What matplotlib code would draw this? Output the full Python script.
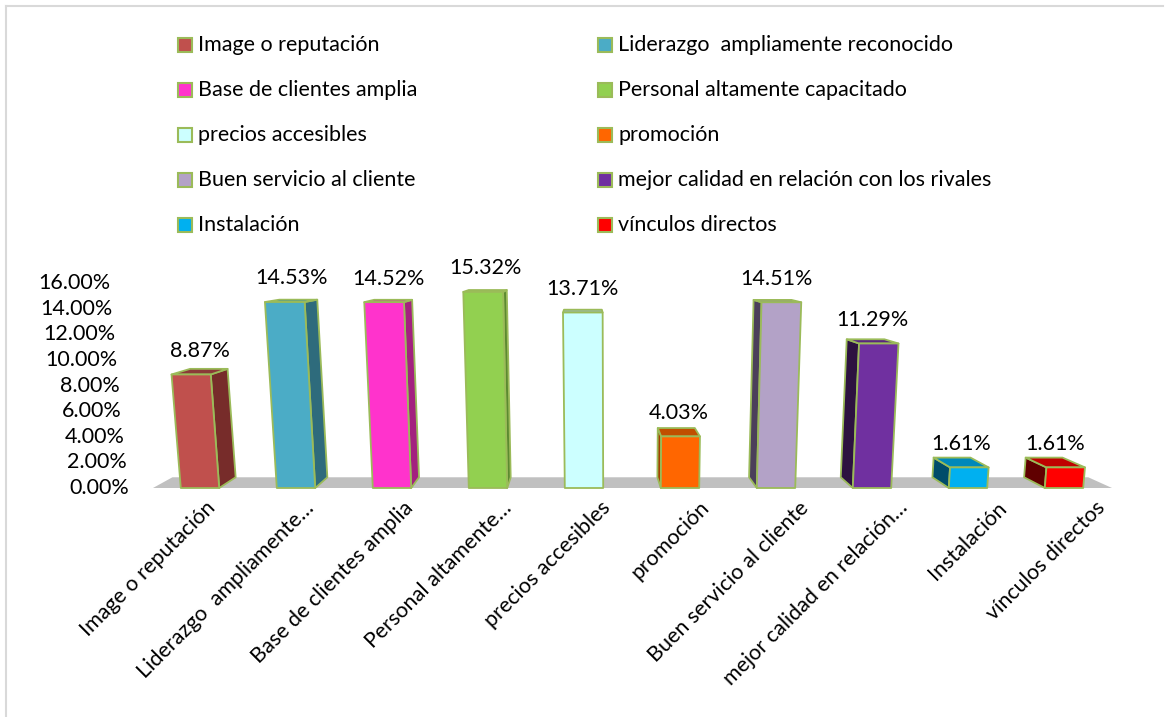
import matplotlib.pyplot as plt
from matplotlib.patches import Polygon, Rectangle
from matplotlib.lines import Line2D

plt.rcParams['font.family'] = ['Lato', 'DejaVu Sans']

categories = ['Image o reputación', 'Liderazgo  ampliamente reconocido', 'Base de clientes amplia',
              'Personal altamente capacitado', 'precios accesibles', 'promoción',
              'Buen servicio al cliente', 'mejor calidad en relación con los rivales',
              'Instalación', 'vínculos directos']
tick_names = ['Image o reputación', 'Liderazgo  ampliamente…', 'Base de clientes amplia',
              'Personal altamente…', 'precios accesibles', 'promoción',
              'Buen servicio al cliente', 'mejor calidad en relación…',
              'Instalación', 'vínculos directos']
values = [8.87, 14.53, 14.52, 15.32, 13.71, 4.03, 14.51, 11.29, 1.61, 1.61]
yticks = [0, 2, 4, 6, 8, 10, 12, 14, 16]

front_colors = ['#C0504D', '#4BACC6', '#FF33CC', '#92D050', '#CCFFFF',
                '#FF6600', '#B3A2C7', '#7030A0', '#00B0F0', '#FF0000']
side_colors = ['#772C2A', '#2E6B7C', '#A3217F', '#5B8A30', '#8FB0B0',
               '#A34000', '#4B3F5A', '#2D1240', '#004C6A', '#600000']
top_colors = ['#8B3A38', '#3B8A9F', '#C62A9C', '#79B040', '#9DB8C4',
              '#C04F00', '#8C7DA0', '#5A2680', '#0088BA', '#C00000']
edge = '#9BBB59'
fs = 15.5

W, H = 1169, 717
fig = plt.figure(figsize=(W / 100, H / 100), dpi=100)

# axes placed so one category = 96 px and 1 % = 12.8 px, floor at y=488 px
x0_px, step_px, floor_px, unit_px = 200, 96, 488, 12.8
ax_l, ax_r, ax_t, ax_b = 60, 1160, 250, 700
ax = fig.add_axes([ax_l / W, (H - ax_b) / H, (ax_r - ax_l) / W, (ax_b - ax_t) / H])
ax.set_xlim((ax_l - x0_px) / step_px, (ax_r - x0_px) / step_px)
ax.set_ylim((floor_px - ax_b) / unit_px, (floor_px - ax_t) / unit_px)
ax.axis('off')

# simple perspective: verticals spread upward, depth shrinks toward a vanishing point
VX, DV = 4.375, 420.0
VDX, VDY, S = 4.01, 18.6, 0.955
half = 0.2


def proj(x, v, back=False):
    xp = VX + (x - VX) * (1 + v / DV)
    yp = v
    if back:
        xp = VDX + (xp - VDX) * S
        yp = VDY + (yp - VDY) * S
    return (xp, yp)


def face(pts, color):
    ax.add_patch(Polygon(pts, closed=True, facecolor=color, edgecolor=edge,
                         linewidth=1.3, joinstyle='round', clip_on=False))


# floor
fl, fr = -0.49, len(values) - 0.5
ax.add_patch(Polygon([proj(fl, 0), proj(fr, 0), proj(fr, 0, True), proj(fl, 0, True)],
                     closed=True, facecolor='#C0C0C0', edgecolor='none', clip_on=False))

for i, v in enumerate(values):
    xl, xr = i - half, i + half
    fbl, fbr, ftr, ftl = proj(xl, 0), proj(xr, 0), proj(xr, v), proj(xl, v)
    bbl, bbr, btr, btl = proj(xl, 0, True), proj(xr, 0, True), proj(xr, v, True), proj(xl, v, True)
    if fbr[0] < VDX:
        face([fbr, bbr, btr, ftr], side_colors[i])
    elif fbl[0] > VDX:
        face([fbl, bbl, btl, ftl], side_colors[i])
    face([ftl, ftr, btr, btl], top_colors[i])
    face([fbl, fbr, ftr, ftl], front_colors[i])
    cx = (ftl[0] + ftr[0] + btl[0] + btr[0]) / 4
    ax.annotate(f'{v:.2f}%', (cx, v), xytext=(0, 17), textcoords='offset points',
                ha='center', va='center', fontsize=fs, color='#000000')
    lx = VX + (i + 0.25 - VX) * 1.03
    ax.text(lx, -1.3, tick_names[i], rotation=45, rotation_mode='anchor',
            ha='right', va='center', fontsize=fs, color='#000000')

for t in yticks:
    xp, yp = proj(-0.74, t)
    ax.text(xp, yp, f'{t:.2f}%', ha='right', va='center', fontsize=fs, color='#000000')

# legend, two columns filled row by row
leg_x = [178, 598]
for k, name in enumerate(categories):
    col, row = k % 2, k // 2
    cy = 45 + 45 * row
    fig.add_artist(Rectangle((leg_x[col] / W, (H - cy - 7) / H), 14 / W, 14 / H,
                             transform=fig.transFigure, facecolor=front_colors[k],
                             edgecolor=edge, linewidth=1.5))
    fig.text((leg_x[col] + 20) / W, (H - cy - 6) / H, name, ha='left', va='baseline',
             fontsize=fs, color='#000000')

# chart area border
fig.add_artist(Line2D([6 / W, 6 / W], [0, (H - 6) / H], color='#D9D9D9', lw=1.5))
fig.add_artist(Line2D([6 / W, 1163 / W], [(H - 6) / H, (H - 6) / H], color='#D9D9D9', lw=1.5))

fig.savefig('out.png', dpi=100)
